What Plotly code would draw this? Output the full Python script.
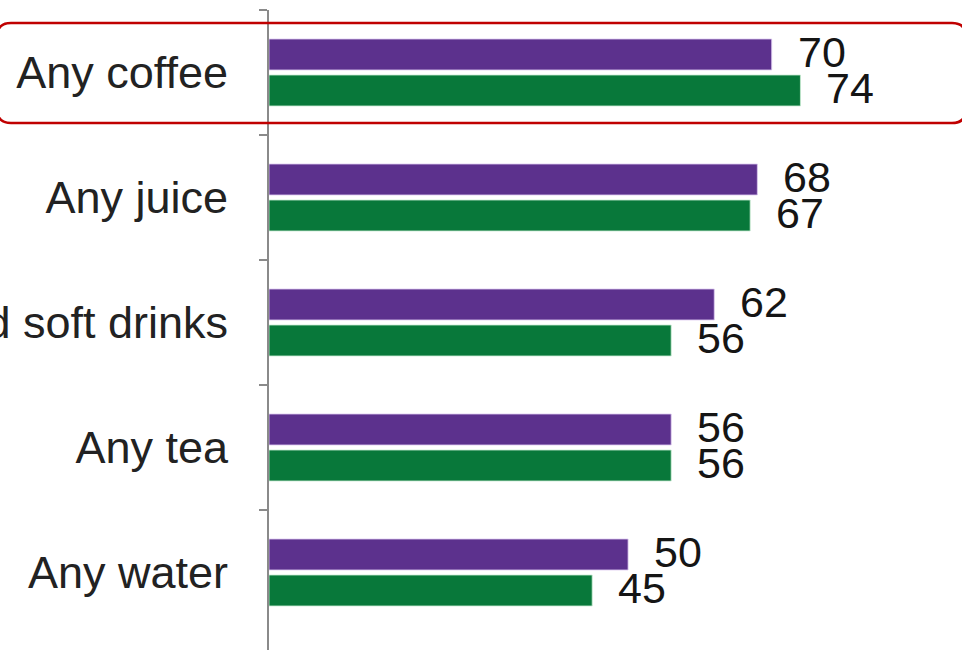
import plotly.graph_objects as go

categories = ["Any coffee", "Any juice", "Any carbonated soft drinks", "Any tea", "Any water"]
series_a = [70, 68, 62, 56, 50]   # purple
series_b = [74, 67, 56, 56, 45]   # green

PURPLE = "#5C318D"
GREEN = "#08783A"

W, H = 962, 650
ML, MR, MT, MB = 269, 0, 10, 0
PW, PH = W - ML - MR, H - MT - MB

fig = go.Figure()
fig.add_trace(go.Bar(y=categories, x=series_a, orientation="h",
                     marker=dict(color=PURPLE, line=dict(color="rgba(220,200,240,0.8)", width=1)), hoverinfo="x"))
fig.add_trace(go.Bar(y=categories, x=series_b, orientation="h",
                     marker=dict(color=GREEN, line=dict(color="rgba(200,235,210,0.8)", width=1)), hoverinfo="x"))

# value labels
for i, (a, b) in enumerate(zip(series_a, series_b)):
    fig.add_annotation(x=a, y=categories[i], yshift=21, text=str(a), showarrow=False, xanchor="left", xshift=24,
                       font=dict(family="Liberation Sans, Arial", size=43, color="#151515"))
    fig.add_annotation(x=b, y=categories[i], yshift=-15, text=str(b), showarrow=False, xanchor="left", xshift=24,
                       font=dict(family="Liberation Sans, Arial", size=43, color="#151515"))

# rounded red highlight box (pixel coords -> paper)
def px(xp):
    return (xp - ML) / PW

def py(yp):
    return (H - MB - yp) / PH

L, R, T, B, r = -3, 966, 23, 123, 14
path = (f"M {px(L + r)},{py(T)} L {px(R - r)},{py(T)} Q {px(R)},{py(T)} {px(R)},{py(T + r)} "
        f"L {px(R)},{py(B - r)} Q {px(R)},{py(B)} {px(R - r)},{py(B)} "
        f"L {px(L + r)},{py(B)} Q {px(L)},{py(B)} {px(L)},{py(B - r)} "
        f"L {px(L)},{py(T + r)} Q {px(L)},{py(T)} {px(L + r)},{py(T)} Z")
fig.add_shape(type="path", path=path, xref="paper", yref="paper",
              line=dict(color="#C00000", width=2.5), layer="above")

fig.update_layout(
    width=W, height=H,
    margin=dict(l=ML, r=MR, t=MT, b=MB, autoexpand=False),
    barmode="group", bargap=0.424, bargroupgap=0.14,
    plot_bgcolor="white", paper_bgcolor="white",
    showlegend=False,
    font=dict(family="Liberation Sans, Arial", color="#222"),
)
fig.update_xaxes(range=[0, 96.5], visible=False, fixedrange=True)
fig.update_yaxes(
    type="category", range=[4.62, -0.5], automargin=False, fixedrange=True,
    showline=True, linecolor="#8a8a8a", linewidth=2,
    tickson="boundaries", ticks="outside", ticklen=8, tickcolor="#8a8a8a", tickwidth=2,
    ticklabelstandoff=30,
    tickfont=dict(family="Liberation Sans, Arial", size=45, color="#222"),
    showgrid=False, zeroline=False,
)

# place the figure flush with the page corner (no default body margin)
fig.write_html("out.html",
               config={"displayModeBar": False},
               post_script="document.body.style.margin='0';document.body.style.overflow='hidden';")
